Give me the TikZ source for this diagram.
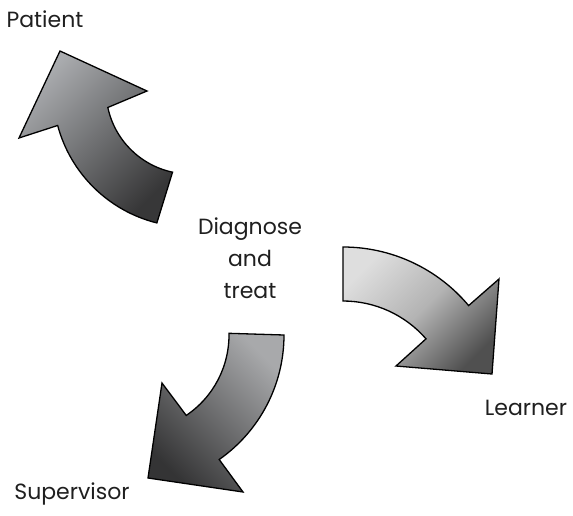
\documentclass[tikz,border=0pt]{standalone}
\usepackage{fontspec}
\setmainfont{Poppins}
\usetikzlibrary{calc}
\definecolor{aLight}{RGB}{170,172,175}
\definecolor{aDark}{RGB}{55,55,56}
\definecolor{bLight}{RGB}{222,222,222}
\definecolor{bDark}{RGB}{80,80,80}
\definecolor{cLight}{RGB}{168,169,171}
\definecolor{cDark}{RGB}{52,52,53}
\tikzset{
  bigarrow/.style={draw=black, line width=1.3pt, line join=miter},
  lbl/.style={text=black!88, font=\fontsize{22}{32}\selectfont, inner sep=0pt, align=center}
}
\begin{document}
\begin{tikzpicture}[x=1pt,y=-1pt]
\useasboundingbox (0,0) rectangle (573,515);
% centres of the curved arrows
\coordinate (c1) at (190,90);
\coordinate (c2) at (343,411);
\coordinate (c3) at (132,335);
% Patient arrow
\path[bigarrow, top color=aLight, bottom color=aDark, shading angle=45]
  (60,51) -- (147,91) -- ($(c1)+(168:84)$) arc[start angle=168, end angle=102, radius=84]
  -- ($(c1)+(104:137)$) arc[start angle=104, end angle=165, radius=137] -- (19,138) -- cycle;
% Learner arrow
\path[bigarrow, top color=bLight, bottom color=bDark, middle color=bLight!70!bDark, shading angle=45]
  ($(c2)+(-90:164)$) arc[start angle=-90, end angle=-40, radius=164] -- (499,279) -- (492,374) -- (396,366)
  -- ($(c2)+(-41:110)$) arc[start angle=-41, end angle=-90, radius=110] -- cycle;
% Supervisor arrow
\path[bigarrow, top color=cLight, bottom color=cDark, shading angle=-45]
  ($(c3)+(-1:97)$) -- ($(c3)+(0:152)$) arc[start angle=0, end angle=55, radius=152] -- (243,492) -- (148,478)
  -- (162,383) -- ($(c3)+(56:97)$) arc[start angle=56, end angle=-1, radius=97] -- cycle;
% labels
\node[lbl] (center) at (250,258) {Diagnose\\and\\treat};
\node[lbl] (patient) at (45,19) {Patient};
\node[lbl] (learner) at (526,408) {Learner};
\node[lbl] (supervisor) at (72,494) {Supervisor};
\end{tikzpicture}
\end{document}
